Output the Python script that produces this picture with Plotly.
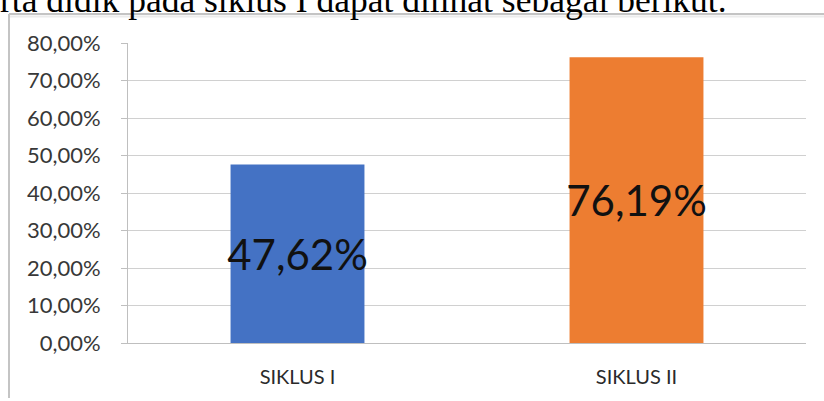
import plotly.graph_objects as go

categories = ["SIKLUS I", "SIKLUS II"]
values = [47.62, 76.19]
value_labels = ["47,62%", "76,19%"]
bar_colors = ["#4472C4", "#ED7D31"]
tick_vals = [0, 10, 20, 30, 40, 50, 60, 70, 80]
tick_text = ["0,00%", "10,00%", "20,00%", "30,00%", "40,00%", "50,00%", "60,00%", "70,00%", "80,00%"]

W, H = 824, 401
x0, x1 = 128, 806
y0, y1 = 343, 43
FONT = "Lato, Open Sans, sans-serif"

fig = go.Figure()
fig.add_trace(go.Bar(
    x=categories, y=values,
    marker=dict(color=bar_colors, line=dict(width=0)),
    width=0.395,
    text=value_labels,
    textposition="inside",
    insidetextanchor="middle",
    textangle=0,
    textfont=dict(family=FONT, size=42, color="#111111"),
    constraintext="none",
    cliponaxis=False,
))

fig.update_layout(
    width=W, height=H,
    margin=dict(l=0, r=0, t=0, b=0, autoexpand=False),
    paper_bgcolor="white", plot_bgcolor="white",
    showlegend=False,
    xaxis=dict(
        domain=[x0 / W, x1 / W],
        range=[-0.5, 1.5],
        showline=True, linecolor="#BFBFBF", linewidth=1,
        ticks="", showgrid=False,
        tickfont=dict(family=FONT, size=20, color="#2A2A2A"),
        ticklabelstandoff=16,
        automargin=False,
    ),
    yaxis=dict(
        domain=[(H - y0) / H, (H - y1) / H],
        range=[0, 80],
        tickvals=tick_vals, ticktext=tick_text,
        showgrid=True, gridcolor="#D0D0D0", gridwidth=1,
        showline=True, linecolor="#BFBFBF", linewidth=1,
        ticks="outside", ticklen=6, tickcolor="#BFBFBF",
        tickfont=dict(family=FONT, size=22, color="#383838"),
        ticklabelstandoff=16,
        zeroline=False,
        automargin=False,
    ),
)

# document frame around the chart
fig.add_shape(type="line", xref="paper", yref="paper",
              x0=9 / W, x1=1, y0=(H - 14) / H, y1=(H - 14) / H,
              line=dict(color="#C4C4C4", width=2))
fig.add_shape(type="line", xref="paper", yref="paper",
              x0=9 / W, x1=1, y0=(H - 16.5) / H, y1=(H - 16.5) / H,
              line=dict(color="#ECECEC", width=2))
fig.add_shape(type="line", xref="paper", yref="paper",
              x0=9 / W, x1=9 / W, y0=(H - 14) / H, y1=(H - 398) / H,
              line=dict(color="#C4C4C4", width=2))

# cropped document text at the top
fig.add_annotation(
    text="rta didik pada siklus I dapat dilihat sebagai berikut.",
    xref="paper", yref="paper", x=-2 / W, y=1.0,
    xanchor="left", yanchor="middle", showarrow=False,
    font=dict(family="Liberation Serif, Times New Roman, serif", size=35.5, color="#000000"),
)

fig.write_html("out.html", config={"displayModeBar": False},
               post_script="document.body.style.margin='0';")
